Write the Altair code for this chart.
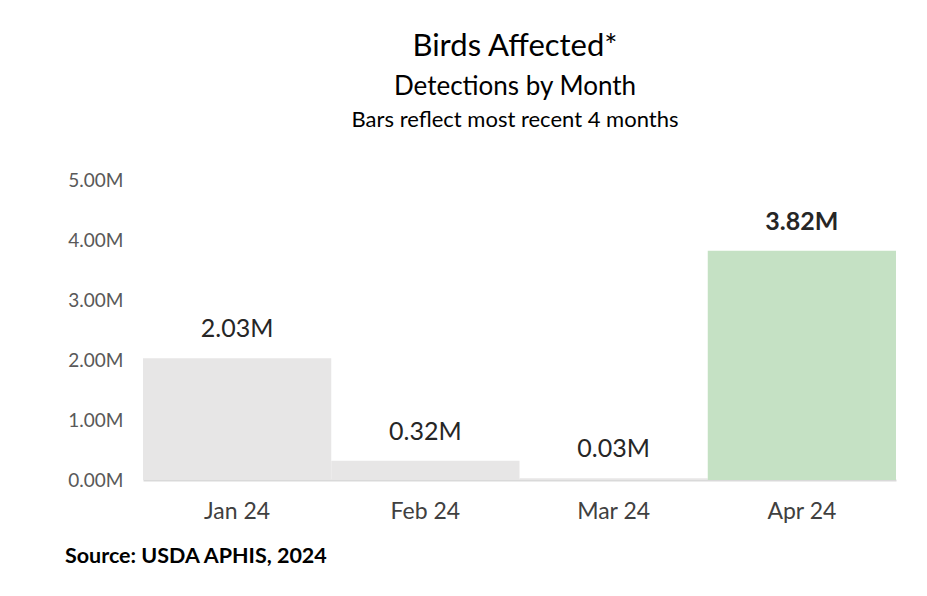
import altair as alt
import pandas as pd

months = ["Jan 24", "Feb 24", "Mar 24", "Apr 24"]
values_m = [2.03, 0.32, 0.03, 3.82]
y_ticks = [0, 1, 2, 3, 4, 5]
title_main = "Birds Affected*"
title_sub1 = "Detections by Month"
title_sub2 = "Bars reflect most recent 4 months"
source = "Source: USDA APHIS, 2024"

FONT = "Lato"
df = pd.DataFrame({"month": months, "value": values_m})
df["label"] = [f"{v:.2f}M" for v in values_m]

W, H = 753, 300

x_enc = alt.X("month:N", sort=months,
              scale=alt.Scale(paddingInner=0, paddingOuter=0),
              axis=alt.Axis(title=None, labelAngle=0, ticks=False, domain=True,
                            domainColor="#d9d9d9", domainWidth=2,
                            labelFont=FONT, labelFontSize=23, labelColor="#404040",
                            labelPadding=20))
y_enc = alt.Y("value:Q", scale=alt.Scale(domain=[0, 5], nice=False),
              axis=alt.Axis(title=None, values=y_ticks, grid=False, domain=False, ticks=False,
                            labelExpr="format(datum.value, '.2f') + 'M'",
                            labelFont=FONT, labelFontSize=19, labelColor="#595959",
                            labelPadding=20))

base = alt.Chart(df)

bars = base.mark_bar(size=W / 4).encode(
    x=x_enc, y=y_enc,
    color=alt.condition(alt.datum.month == "Apr 24", alt.value("#c5e1c4"), alt.value("#e7e6e6")),
)

labels = base.transform_filter(alt.datum.month != "Apr 24").mark_text(
    font=FONT, fontSize=25, color="#262626", dy=-29, baseline="middle"
).encode(x=alt.X("month:N", sort=months), y="value:Q", text="label:N")

labels_bold = base.transform_filter(alt.datum.month == "Apr 24").mark_text(
    font=FONT, fontSize=25, fontWeight="bold", color="#262626", dy=-29, baseline="middle"
).encode(x=alt.X("month:N", sort=months), y="value:Q", text="label:N")

tdf = pd.DataFrame({"t": [title_main]})
cx = 372
t1 = alt.Chart(tdf).mark_text(font=FONT, fontSize=31, color="#000000", baseline="middle").encode(
    x=alt.value(cx), y=alt.value(-133), text=alt.value(title_main))
t2 = alt.Chart(tdf).mark_text(font=FONT, fontSize=26, color="#000000", baseline="middle").encode(
    x=alt.value(cx), y=alt.value(-93), text=alt.value(title_sub1))
t3 = alt.Chart(tdf).mark_text(font=FONT, fontSize=22, color="#000000", baseline="middle").encode(
    x=alt.value(cx), y=alt.value(-60), text=alt.value(title_sub2))
src = alt.Chart(tdf).mark_text(font=FONT, fontSize=21.5, fontWeight="bold", color="#000000",
                               baseline="middle", align="left").encode(
    x=alt.value(-78), y=alt.value(377), text=alt.value(source))

chart = alt.layer(bars, labels, labels_bold, t1, t2, t3, src).properties(
    width=W, height=H,
    autosize=alt.AutoSizeParams(type="none"),
    padding={"left": 135, "top": 172, "right": 23, "bottom": 108},
    view=alt.ViewBackground(stroke="transparent", strokeWidth=0),
).configure_view(stroke="transparent", strokeWidth=0).configure(background="white")

chart.save("out.html", embed_options={"renderer": "svg", "actions": False})
